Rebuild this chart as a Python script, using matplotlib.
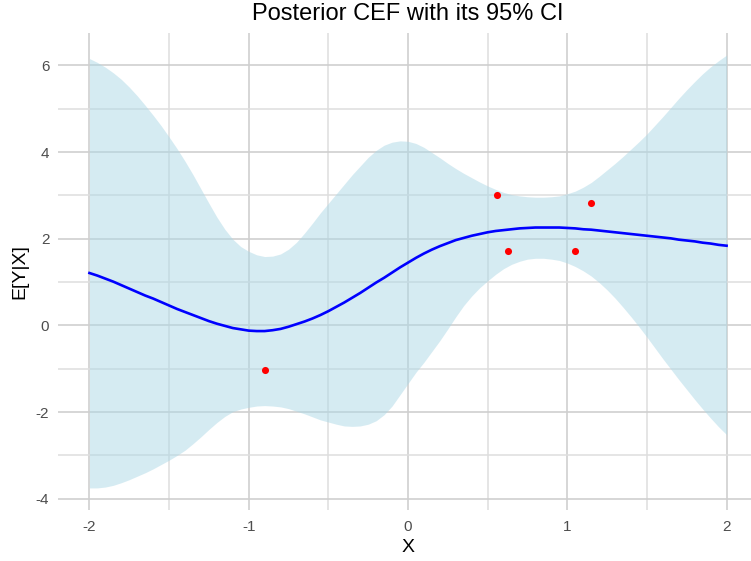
import matplotlib
matplotlib.use('Agg')
import matplotlib.pyplot as plt
from matplotlib.ticker import MultipleLocator

plt.rcParams['font.family'] = ['Liberation Sans', 'DejaVu Sans']
plt.rcParams['axes.unicode_minus'] = False

# values, every 0.05 in X
x_grid = [-2.00, -1.95, -1.90, -1.85, -1.80, -1.75, -1.70, -1.65, -1.60, -1.55,
          -1.50, -1.45, -1.40, -1.35, -1.30, -1.25, -1.20, -1.15, -1.10, -1.05,
          -1.00, -0.95, -0.90, -0.85, -0.80, -0.75, -0.70, -0.65, -0.60, -0.55,
          -0.50, -0.45, -0.40, -0.35, -0.30, -0.25, -0.20, -0.15, -0.10, -0.05,
          0.00, 0.05, 0.10, 0.15, 0.20, 0.25, 0.30, 0.35, 0.40, 0.45,
          0.50, 0.55, 0.60, 0.65, 0.70, 0.75, 0.80, 0.85, 0.90, 0.95,
          1.00, 1.05, 1.10, 1.15, 1.20, 1.25, 1.30, 1.35, 1.40, 1.45,
          1.50, 1.55, 1.60, 1.65, 1.70, 1.75, 1.80, 1.85, 1.90, 1.95, 2.00]
cef_mean = [1.21, 1.15, 1.08, 1.01, 0.93, 0.85, 0.77, 0.69, 0.62, 0.54,
            0.46, 0.38, 0.31, 0.24, 0.17, 0.10, 0.04, -0.01, -0.06, -0.09,
            -0.12, -0.13, -0.13, -0.11, -0.08, -0.03, 0.03, 0.09, 0.16, 0.24,
            0.33, 0.43, 0.53, 0.64, 0.75, 0.87, 0.99, 1.10, 1.22, 1.34,
            1.45, 1.56, 1.66, 1.75, 1.83, 1.90, 1.97, 2.02, 2.07, 2.11,
            2.15, 2.18, 2.20, 2.22, 2.24, 2.25, 2.26, 2.26, 2.26, 2.26,
            2.25, 2.24, 2.22, 2.21, 2.19, 2.17, 2.15, 2.13, 2.11, 2.09,
            2.07, 2.05, 2.03, 2.01, 1.98, 1.96, 1.94, 1.91, 1.89, 1.86, 1.84]
ci_upper = [6.16, 6.07, 5.96, 5.83, 5.68, 5.50, 5.30, 5.08, 4.85, 4.61,
            4.35, 4.08, 3.79, 3.48, 3.15, 2.82, 2.50, 2.22, 1.99, 1.82,
            1.71, 1.63, 1.59, 1.60, 1.65, 1.76, 1.92, 2.13, 2.36, 2.60,
            2.82, 3.04, 3.26, 3.48, 3.68, 3.88, 4.04, 4.16, 4.23, 4.26,
            4.25, 4.20, 4.11, 3.99, 3.87, 3.74, 3.62, 3.51, 3.41, 3.31,
            3.22, 3.14, 3.07, 3.02, 2.99, 2.97, 2.96, 2.96, 2.97, 2.99,
            3.04, 3.10, 3.19, 3.30, 3.44, 3.59, 3.74, 3.90, 4.07, 4.24,
            4.42, 4.62, 4.82, 5.03, 5.24, 5.44, 5.63, 5.81, 5.97, 6.11, 6.24]
ci_lower = [-3.75, -3.75, -3.73, -3.69, -3.63, -3.56, -3.48, -3.40, -3.31, -3.21,
            -3.11, -3.00, -2.88, -2.73, -2.57, -2.40, -2.24, -2.10, -1.99, -1.93,
            -1.89, -1.86, -1.85, -1.86, -1.88, -1.92, -1.98, -2.04, -2.11, -2.18,
            -2.23, -2.28, -2.32, -2.33, -2.32, -2.28, -2.20, -2.06, -1.86, -1.60,
            -1.34, -1.08, -0.85, -0.60, -0.35, -0.08, 0.20, 0.46, 0.68, 0.87,
            1.03, 1.18, 1.31, 1.41, 1.48, 1.53, 1.55, 1.55, 1.53, 1.50,
            1.44, 1.36, 1.26, 1.14, 0.99, 0.82, 0.63, 0.42, 0.20, -0.03,
            -0.27, -0.52, -0.77, -1.01, -1.25, -1.48, -1.71, -1.93, -2.14, -2.34, -2.52]

obs_x = [-0.90, 0.56, 0.63, 1.05, 1.15]
obs_y = [-1.04, 3.00, 1.71, 1.71, 2.82]

fig = plt.figure(figsize=(7.51, 5.61), dpi=100)
# right edge of the panel runs past the figure, like the cropped original
ax = fig.add_axes([0.0767, 0.0909, 0.9332, 0.8503])

ax.fill_between(x_grid, ci_lower, ci_upper, color='lightblue', alpha=0.5,
                linewidth=0, zorder=2)
ax.plot(x_grid, cef_mean, color='blue', linewidth=1.9, zorder=3,
        solid_joinstyle='round')
ax.scatter(obs_x, obs_y, color='red', s=26, linewidths=0, zorder=4)

ax.set_xlim(-2.2, 2.2)
ax.set_ylim(-4.26, 6.75)
ax.xaxis.set_major_locator(MultipleLocator(1))
ax.xaxis.set_minor_locator(MultipleLocator(0.5))
ax.yaxis.set_major_locator(MultipleLocator(2))
ax.yaxis.set_minor_locator(MultipleLocator(1))

ax.set_axisbelow(True)
ax.grid(which='major', color='#cfcfcf', linewidth=1.2)
ax.grid(which='minor', color='#dedede', linewidth=1.1)
for s in ax.spines.values():
    s.set_visible(False)
ax.tick_params(which='both', length=0, labelsize=11, labelcolor='#4d4d4d')
ax.tick_params(axis='x', pad=7)
ax.tick_params(axis='y', pad=6)

ax.set_xlabel('X', fontsize=14, labelpad=4)
ax.set_ylabel('E[Y|X]', fontsize=14, labelpad=5)
ax.set_title('Posterior CEF with its 95% CI', fontsize=17, pad=9)

fig.savefig('out.png', dpi=100)
